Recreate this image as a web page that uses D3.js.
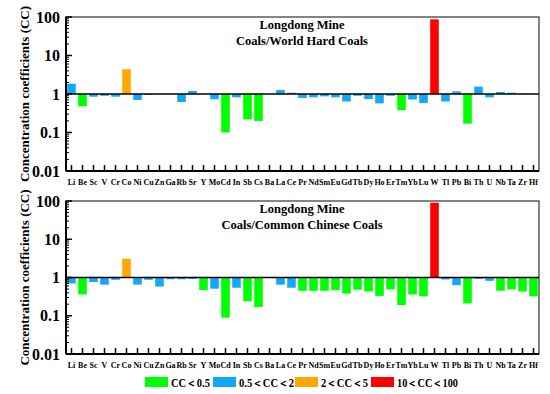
<!DOCTYPE html>
<html>
<head>
<meta charset="utf-8">
<script src="https://cdn.jsdelivr.net/npm/d3@7"></script>
<style>
  body { margin: 0; background: #fff; }
</style>
</head>
<body>
<div id="plot"></div>
<script>
// elements on the x axis
const elements = ["Li","Be","Sc","V","Cr","Co","Ni","Cu","Zn","Ga","Rb","Sr","Y","Mo","Cd","In","Sb","Cs","Ba",
  "La","Ce","Pr","Nd","Sm","Eu","Gd","Tb","Dy","Ho","Er","Tm","Yb","Lu","W","Tl","Pb","Bi","Th","U","Nb","Ta","Zr","Hf"];

// CC relative to world hard coals
const ccWorld = [1.85,0.48,0.85,0.9,0.85,4.4,0.7,0.95,1.0,1.0,0.62,1.2,1.0,0.73,0.1,0.82,0.22,0.2,1.0,
  1.27,1.08,0.79,0.82,0.87,0.82,0.64,0.9,0.74,0.57,0.9,0.38,0.72,0.58,87,0.64,1.17,0.17,1.55,0.82,1.13,1.08,1.0,1.0];

// CC relative to common Chinese coals
const ccChina = [0.7,0.36,0.76,0.65,0.87,3.1,0.65,0.87,0.58,0.9,0.9,0.92,0.47,0.51,0.089,0.54,0.24,0.17,1.0,
  0.65,0.54,0.45,0.45,0.45,0.47,0.38,0.48,0.43,0.33,0.49,0.19,0.36,0.32,90,0.89,0.63,0.21,0.92,0.82,0.45,0.49,0.43,0.32];

const yTicks = [0.01, 0.1, 1, 10, 100];
const yTickLabels = ["0.01", "0.1", "1", "10", "100"];

const legendLabels = ["CC\uFF1C0.5", "0.5\uFF1CCC\uFF1C2", "2\uFF1CCC\uFF1C5", "10\uFF1CCC\uFF1C100"];
const legendColors = ["#00ff00", "#12a8f5", "#ffa800", "#ff0000"];

const panels = [
  { values: ccWorld, subtitle: "Coals/World Hard Coals", top: 17, bottom: 171 },
  { values: ccChina, subtitle: "Coals/Common Chinese Coals", top: 201, bottom: 354 }
];

const width = 550, height = 394;
const left = 66, right = 539;
const serif = "'Liberation Serif', 'Times New Roman', 'DejaVu Serif', serif";

const svg = d3.select("#plot").append("svg")
  .attr("width", width)
  .attr("height", height)
  .attr("font-family", serif)
  .attr("font-weight", "bold");

const x = d3.scaleBand().domain(elements).range([left, right]).paddingInner(0.22).paddingOuter(0.11);

const colorScale = d3.scaleThreshold()
  .domain([0.5, 2, 5])
  .range(legendColors);

panels.forEach(p => {
  const y = d3.scaleLog().domain([0.01, 100]).range([p.bottom, p.top]);
  const g = svg.append("g");

  // bars from the CC = 1 line
  g.selectAll("rect.bar")
    .data(elements.map((e, i) => ({ e, v: p.values[i] })))
    .join("rect")
    .attr("class", "bar")
    .attr("x", d => x(d.e))
    .attr("width", x.bandwidth())
    .attr("y", d => Math.min(y(d.v), y(1)))
    .attr("height", d => Math.abs(y(d.v) - y(1)))
    .attr("fill", d => colorScale(d.v));

  // frame
  g.append("rect")
    .attr("x", left).attr("y", p.top)
    .attr("width", right - left).attr("height", p.bottom - p.top)
    .attr("fill", "none").attr("stroke", "#333").attr("stroke-width", 1.2);

  // reference line at 1
  g.append("line")
    .attr("x1", left).attr("x2", right)
    .attr("y1", y(1)).attr("y2", y(1))
    .attr("stroke", "#000").attr("stroke-width", 1.6);

  // y axis with inward ticks
  const minor = [];
  for (let d = 0.01; d < 100; d *= 10) {
    for (let k = 2; k <= 9; k++) minor.push(d * k);
  }
  const yAxis = g.append("g").attr("transform", `translate(${left},0)`);
  yAxis.append("line")
    .attr("x1", 0).attr("x2", 0).attr("y1", p.top).attr("y2", p.bottom)
    .attr("stroke", "#000").attr("stroke-width", 2);
  yAxis.selectAll("line.minor").data(minor).join("line")
    .attr("class", "minor")
    .attr("x1", 0).attr("x2", 3)
    .attr("y1", d => y(d)).attr("y2", d => y(d))
    .attr("stroke", "#000").attr("stroke-width", 1);
  yAxis.selectAll("line.major").data(yTicks).join("line")
    .attr("class", "major")
    .attr("x1", 0).attr("x2", 6)
    .attr("y1", d => y(d)).attr("y2", d => y(d))
    .attr("stroke", "#000").attr("stroke-width", 1.5);
  yAxis.selectAll("text").data(yTicks).join("text")
    .attr("x", -6)
    .attr("y", d => y(d))
    .attr("dy", "0.35em")
    .attr("text-anchor", "end")
    .attr("font-size", 16)
    .text((d, i) => yTickLabels[i]);

  // x axis with inward ticks
  const xAxis = g.append("g");
  xAxis.append("line")
    .attr("x1", left).attr("x2", right).attr("y1", p.bottom).attr("y2", p.bottom)
    .attr("stroke", "#000").attr("stroke-width", 2);
  xAxis.selectAll("line.tick").data(elements).join("line")
    .attr("class", "tick")
    .attr("x1", d => x(d) + x.bandwidth() / 2).attr("x2", d => x(d) + x.bandwidth() / 2)
    .attr("y1", p.bottom).attr("y2", p.bottom - 6)
    .attr("stroke", "#000").attr("stroke-width", 1.5);
  xAxis.selectAll("text").data(elements).join("text")
    .attr("x", d => x(d) + x.bandwidth() / 2)
    .attr("y", p.bottom + 14)
    .attr("text-anchor", "middle")
    .attr("font-size", 8)
    .text(d => d);

  // y label
  g.append("text")
    .attr("transform", `translate(29,${(p.top + p.bottom) / 2}) rotate(-90)`)
    .attr("text-anchor", "middle")
    .attr("font-size", 13)
    .text("Concentration coefficients (CC)");

  // panel title
  g.append("text")
    .attr("x", 302).attr("y", p.top + 12)
    .attr("text-anchor", "middle")
    .attr("font-size", 12.5)
    .text("Longdong Mine");
  g.append("text")
    .attr("x", 302).attr("y", p.top + 28)
    .attr("text-anchor", "middle")
    .attr("font-size", 12.5)
    .text(p.subtitle);
});

// legend
const legendX = [145, 213, 295, 371];
const legendTextWidth = [39, 55, 47, 61];
const legend = svg.append("g");
legendLabels.forEach((lab, i) => {
  legend.append("rect")
    .attr("x", legendX[i]).attr("y", 377)
    .attr("width", 23).attr("height", 10)
    .attr("fill", legendColors[i]);
  legend.append("text")
    .attr("x", legendX[i] + 26).attr("y", 387)
    .attr("font-size", 12)
    .attr("textLength", legendTextWidth[i])
    .attr("lengthAdjust", "spacingAndGlyphs")
    .text(lab);
});
</script>
</body>
</html>
